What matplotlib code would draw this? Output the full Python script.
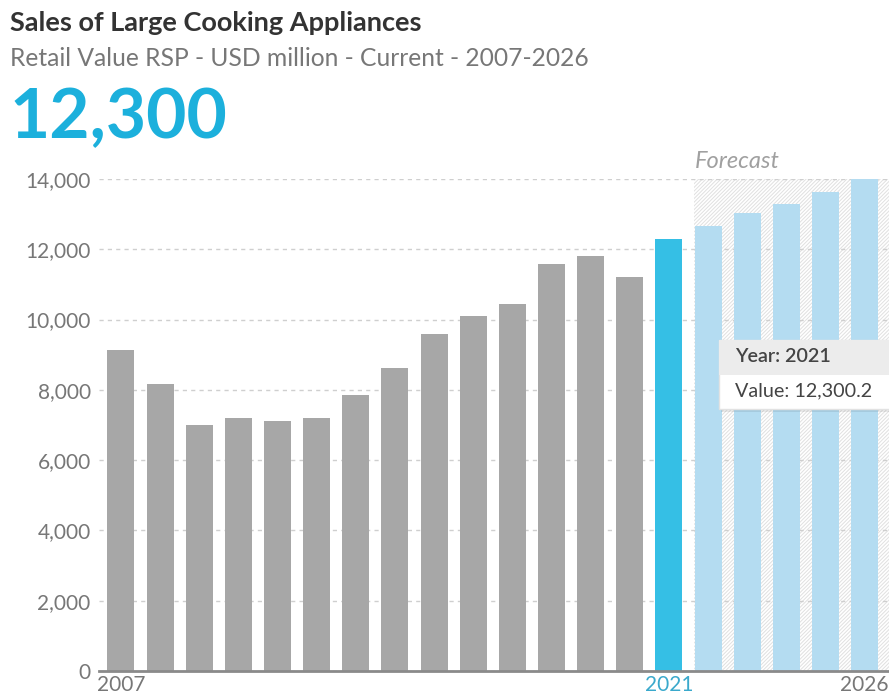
import matplotlib
matplotlib.use("Agg")
import matplotlib.pyplot as plt
from matplotlib.patches import Rectangle
import numpy as np

plt.rcParams['font.family'] = ['Lato', 'DejaVu Sans']
plt.rcParams['hatch.linewidth'] = 0.7

years = list(range(2007, 2027))
sales = [9130, 8170, 7000, 7200, 7120, 7200, 7860, 8620, 9590, 10100,
         10440, 11580, 11810, 11210, 12300.2, 12660, 13030, 13290, 13630, 13990]
current_year = 2021
first_forecast = 2022
y_ticks = [0, 2000, 4000, 6000, 8000, 10000, 12000, 14000]

grey = '#a7a7a7'
blue = '#35bfe5'
light_blue = '#b4dcf1'

fig = plt.figure(figsize=(8.89, 6.99), dpi=100)
ax = fig.add_axes([99 / 889, 28 / 699, 1 - 99 / 889, 492 / 699])

colors = []
for y in years:
    if y < current_year:
        colors.append(grey)
    elif y == current_year:
        colors.append(blue)
    else:
        colors.append(light_blue)

# forecast band with diagonal hatching
band = Rectangle((first_forecast - 0.35, 0), 10, 14000, facecolor='white',
                 edgecolor='#e0e0e0', hatch='/' * 9, linewidth=0, zorder=0.5)
ax.add_patch(band)

ax.bar(years, sales, width=0.69, color=colors, zorder=2)

ax.set_xlim(2006.44, 2026.62)
ax.set_ylim(0, 14000)
ax.set_yticks(y_ticks)
ax.set_yticklabels([f'{v:,}' for v in y_ticks])
ax.yaxis.grid(True, color='#cfcfcf', linestyle=(0, (3, 3)), linewidth=1, zorder=0)
ax.set_axisbelow(True)

ax.set_xticks([2007, 2021, 2026])
ax.set_xticklabels(['2007', '2021', '2026'])
ax.tick_params(axis='both', length=0, labelsize=15, labelcolor='#777777')
ax.tick_params(axis='x', pad=3)
ax.tick_params(axis='y', pad=6)
ax.get_xticklabels()[1].set_color('#3aa9cc')

for side in ['top', 'right', 'left']:
    ax.spines[side].set_visible(False)
ax.spines['bottom'].set_color('#8a8a8a')
ax.spines['bottom'].set_linewidth(2)
ax.spines['bottom'].set_zorder(3)

ax.text(first_forecast - 0.35, 14200, 'Forecast', fontsize=17, style='italic',
        color='#a0a0a0', ha='left', va='bottom')

# header
fig.text(10 / 889, 1 - 23 / 699, 'Sales of Large Cooking Appliances', fontsize=19.5,
         fontweight='bold', color='#333333', ha='left', va='center')
fig.text(10 / 889, 1 - 58 / 699, 'Retail Value RSP - USD million - Current - 2007-2026',
         fontsize=17.7, color='#777777', ha='left', va='center')
fig.text(9 / 889, 1 - 119 / 699, f'{round(sales[years.index(current_year)]):,}',
         fontsize=50, fontweight='bold', color='#1cb0dc', ha='left', va='center')

# tooltip for the current year
tx, ty, tw, th = 719 / 889, 1 - 409 / 699, 200 / 889, 69 / 699
fig.patches.append(Rectangle((tx + 0.002, ty - 0.004), tw, th, transform=fig.transFigure,
                             facecolor='#000000', alpha=0.08, linewidth=0, zorder=5))
fig.patches.append(Rectangle((tx, ty), tw, th, transform=fig.transFigure,
                             facecolor='white', edgecolor='#e2e2e2', linewidth=1, zorder=6))
fig.patches.append(Rectangle((tx, ty + th / 2), tw, th / 2, transform=fig.transFigure,
                             facecolor='#ececec', linewidth=0, zorder=7))
fig.text(735 / 889, 1 - 356 / 699, f'Year: {current_year}', fontsize=14.2,
         fontweight='semibold', color='#444444', ha='left', va='center', zorder=8)
fig.text(735 / 889, 1 - 391 / 699, f'Value: {sales[years.index(current_year)]:,.1f}',
         fontsize=14.2, color='#444444', ha='left', va='center', zorder=8)

fig.savefig('out.png', dpi=100)
